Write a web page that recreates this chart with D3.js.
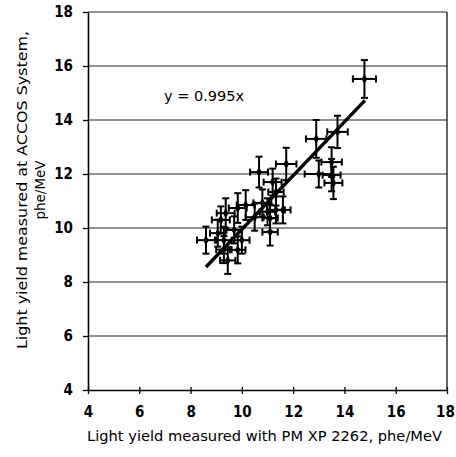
<!DOCTYPE html>
<html><head><meta charset="utf-8">
<script src="https://cdn.jsdelivr.net/npm/d3@7/dist/d3.min.js"></script>
<style>body{margin:0;background:#fff}</style>
</head><body>
<svg id="c" width="456" height="457"></svg>
<script>
const xTicks = [4, 6, 8, 10, 12, 14, 16, 18];
const yTicks = [4, 6, 8, 10, 12, 14, 16, 18];
const xVals = [14.78, 12.9, 13.73, 11.73, 10.67, 13.0, 13.5, 13.5, 13.57, 11.2, 11.33, 10.8, 11.0, 11.33, 11.1, 11.1, 10.15, 9.84, 9.37, 9.18, 8.6, 9.06, 9.3, 10.0, 9.7, 9.3, 9.45, 9.84, 10.5, 11.6];
const yVals = [15.52, 13.3, 13.56, 12.37, 12.07, 12.0, 12.44, 11.96, 11.67, 11.7, 11.33, 10.93, 10.6, 10.67, 10.37, 9.85, 10.85, 10.74, 10.55, 10.3, 9.55, 9.81, 9.55, 9.55, 9.93, 9.2, 8.8, 9.19, 10.4, 10.67];
const xErr = [0.45, 0.4, 0.4, 0.4, 0.35, 0.55, 0.4, 0.35, 0.35, 0.35, 0.3, 0.35, 0.3, 0.35, 0.3, 0.3, 0.35, 0.35, 0.35, 0.35, 0.35, 0.3, 0.3, 0.3, 0.3, 0.3, 0.3, 0.3, 0.35, 0.3];
const yErr = [0.7, 0.7, 0.6, 0.6, 0.57, 0.5, 0.55, 0.6, 0.6, 0.5, 0.5, 0.5, 0.5, 0.5, 0.5, 0.5, 0.55, 0.55, 0.55, 0.5, 0.5, 0.5, 0.5, 0.5, 0.5, 0.5, 0.5, 0.5, 0.5, 0.5];
const fitSlope = 0.995;
const fitRange = [8.6, 14.8];
const eqLabel = "y = 0.995x";
const xTitle = "Light yield measured with PM XP 2262, phe/MeV";
const yTitle = ["Light yield measured at ACCOS System,", "phe/MeV"];

const svg = d3.select("#c");
const L = 88, R = 447, T = 12, B = 390;
const x = d3.scaleLinear().domain([4, 18]).range([L, R]);
const y = d3.scaleLinear().domain([4, 18]).range([B, T]);
const font = "'DejaVu Sans', Verdana, sans-serif";
const tickFont = "'DejaVu Sans Condensed', 'DejaVu Sans', sans-serif";

// gridlines
svg.append("g").selectAll("line").data(yTicks.slice(1)).join("line")
  .attr("x1", L).attr("x2", R).attr("y1", d => y(d)).attr("y2", d => y(d))
  .attr("stroke", "#6e6e6e").attr("stroke-width", 1.5);
// right border
svg.append("line").attr("x1", R).attr("x2", R).attr("y1", T).attr("y2", B)
  .attr("stroke", "#000").attr("stroke-width", 1.2);

// axes
const xAxis = svg.append("g").attr("transform", `translate(0,${B})`)
  .call(d3.axisBottom(x).tickValues(xTicks).tickSizeInner(4).tickSizeOuter(0).tickPadding(12));
const yAxis = svg.append("g").attr("transform", `translate(${L},0)`)
  .call(d3.axisLeft(y).tickValues(yTicks).tickSizeInner(5).tickSizeOuter(0).tickPadding(10));
[xAxis, yAxis].forEach(a => {
  a.select(".domain").attr("stroke", "#000").attr("stroke-width", 1.6);
  a.selectAll(".tick line").attr("stroke", "#000").attr("stroke-width", 1.3);
  a.selectAll("text").attr("font-family", tickFont).attr("font-size", 15).attr("font-weight", "bold").attr("fill", "#000");
});
xAxis.selectAll(".tick line").attr("y1", -3);
xAxis.selectAll(".tick text").filter(d => d === 18).attr("dx", -2);

// fit line
svg.append("line")
  .attr("x1", x(fitRange[0])).attr("y1", y(fitSlope * fitRange[0]))
  .attr("x2", x(fitRange[1])).attr("y2", y(fitSlope * fitRange[1]))
  .attr("stroke", "#000").attr("stroke-width", 3.4);

// error bars
const pts = xVals.map((v, i) => ({x: v, y: yVals[i], ex: xErr[i], ey: yErr[i]}));
const cap = 3.5;
const g = svg.append("g").attr("stroke", "#000").attr("stroke-width", 2);
pts.forEach(p => {
  const cx = x(p.x), cy = y(p.y);
  const x0 = x(p.x - p.ex), x1 = x(p.x + p.ex), y0 = y(p.y - p.ey), y1 = y(p.y + p.ey);
  g.append("line").attr("x1", x0).attr("x2", x1).attr("y1", cy).attr("y2", cy);
  g.append("line").attr("x1", cx).attr("x2", cx).attr("y1", y0).attr("y2", y1);
  g.append("line").attr("x1", x0).attr("x2", x0).attr("y1", cy - cap).attr("y2", cy + cap);
  g.append("line").attr("x1", x1).attr("x2", x1).attr("y1", cy - cap).attr("y2", cy + cap);
  g.append("line").attr("x1", cx - cap).attr("x2", cx + cap).attr("y1", y0).attr("y2", y0);
  g.append("line").attr("x1", cx - cap).attr("x2", cx + cap).attr("y1", y1).attr("y2", y1);
});
svg.append("g").selectAll("path").data(pts).join("path")
  .attr("transform", d => `translate(${x(d.x)},${y(d.y)})`)
  .attr("d", d3.symbol(d3.symbolDiamond, 28)).attr("fill", "#000");

// equation
svg.append("text").attr("x", 204).attr("y", 101).attr("text-anchor", "middle")
  .attr("font-family", font).attr("font-size", 14.5).attr("fill", "#000").text(eqLabel);

// titles
svg.append("text").attr("x", (L + R) / 2 - 3).attr("y", 441).attr("text-anchor", "middle")
  .attr("font-family", font).attr("font-size", 13.5).attr("fill", "#000")
  .attr("textLength", 355).attr("lengthAdjust", "spacingAndGlyphs").text(xTitle);
const yt = svg.append("text").attr("transform", "translate(0,190) rotate(-90)")
  .attr("font-family", font).attr("font-size", 13.5).attr("fill", "#000").attr("text-anchor", "middle");
yt.append("tspan").attr("x", 0).attr("y", 27).attr("textLength", 318).attr("lengthAdjust", "spacingAndGlyphs").text(yTitle[0]);
yt.append("tspan").attr("x", 0).attr("y", 45).text(yTitle[1]);
</script>
</body></html>
